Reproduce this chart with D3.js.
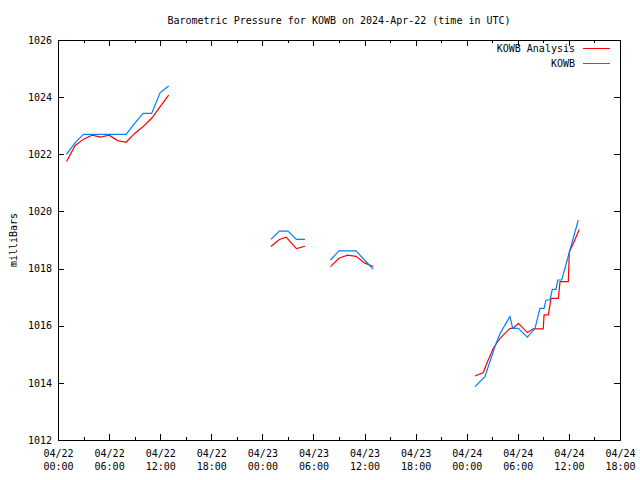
<!DOCTYPE html>
<html>
<head>
<meta charset="utf-8">
<script src="https://cdn.jsdelivr.net/npm/d3@7"></script>
<style>
  body { margin: 0; background: #fff; }
  svg text { font-family: "DejaVu Sans Mono", "Liberation Mono", monospace; font-size: 10px; fill: #000; }
</style>
</head>
<body>
<svg id="chart" width="640" height="480"></svg>
<script>
// ---- data (hours after 2024-04-22 00:00 UTC; null = gap) ----
const titleText = "Barometric Pressure for KOWB on 2024-Apr-22 (time in UTC)";
const yLabel = "milliBars";
const seriesNames = ["KOWB Analysis", "KOWB"];
const yTicks = [1012, 1014, 1016, 1018, 1020, 1022, 1024, 1026];

const anaHours = [1,2,3,4,5,6,7,8,9,10,11,12,13, null,
  25,26,26.8,28,29, null,
  32,33,34,35,36,37, null,
  48.97,49.95,50.35,51.12,51.91,53.08,53.47,54.06,55.12,55.82,56.99,57.08,57.59,57.9,58.76,58.96,59.93,60.05,60.52,61.22];
const anaPressure = [1021.75,1022.3,1022.53,1022.67,1022.6,1022.67,1022.48,1022.42,1022.73,1022.97,1023.26,1023.67,1024.07, null,
  1018.77,1019.02,1019.1,1018.7,1018.78, null,
  1018.07,1018.36,1018.47,1018.43,1018.2,1018.07, null,
  1014.24,1014.36,1014.68,1015.21,1015.56,1015.91,1015.91,1016.08,1015.76,1015.89,1015.89,1016.38,1016.38,1016.96,1016.96,1017.54,1017.54,1018.59,1018.88,1019.37];

const obsHours = [1,2,3,4,5,6,7,8,9,10,11,12,13, null,
  25,26,27,28,29, null,
  32,33,34,35,36,37, null,
  48.97,50.14,51.31,51.91,52.5,53.08,53.4,54.06,55.12,56.02,56.6,57.08,57.31,57.78,58.05,58.49,58.69,59.15,60.13,61.1];
const obsPressure = [1022.0,1022.4,1022.7,1022.7,1022.7,1022.7,1022.7,1022.7,1023.08,1023.43,1023.43,1024.16,1024.39, null,
  1019.02,1019.31,1019.31,1019.02,1019.02, null,
  1018.3,1018.62,1018.62,1018.62,1018.3,1017.98, null,
  1013.87,1014.22,1015.27,1015.73,1016.03,1016.32,1015.91,1015.91,1015.6,1015.91,1016.61,1016.61,1016.9,1016.9,1017.27,1017.27,1017.6,1017.6,1018.65,1019.7];

const seriesColors = ["#ff0000", "#0080ff"];

// ---- layout ----
const mLeft = 58, mRight = 620, mTop = 40, mBottom = 440;
const t0 = Date.UTC(2024, 3, 22, 0, 0);
const t1 = Date.UTC(2024, 3, 24, 18, 0);
const toDate = h => new Date(t0 + h * 3600e3);

const svg = d3.select("#chart");
const x = d3.scaleUtc().domain([t0, t1]).range([mLeft, mRight]);
const y = d3.scaleLinear().domain([1012, 1026]).range([mBottom, mTop]);

const fmtDate = d3.utcFormat("%m/%d");
const fmtTime = d3.utcFormat("%H:%M");
const majorTimes = d3.utcHour.every(6).range(new Date(t0), new Date(t1 + 1));
const minorTimes = d3.utcHour.every(3).range(new Date(t0), new Date(t1 + 1)).filter(d => d.getUTCHours() % 6 !== 0);

function styleAxis(g) {
  g.select(".domain").remove();
  g.selectAll(".tick line").attr("stroke", "#000").attr("shape-rendering", "crispEdges");
}

// bottom axis (major, with labels)
const gx = svg.append("g").attr("transform", `translate(0,${mBottom})`)
  .call(d3.axisBottom(x).tickValues(majorTimes).tickSizeInner(-6).tickSizeOuter(0).tickPadding(10).tickFormat(""));
styleAxis(gx);
gx.selectAll(".tick").each(function(d) {
  const t = d3.select(this).select("text");
  t.text(null).attr("fill", "#000").style("font-size", "10px").style("font-family", "DejaVu Sans Mono, monospace");
  t.append("tspan").attr("x", 0).attr("dy", "0.71em").text(fmtDate(d));
  t.append("tspan").attr("x", 0).attr("dy", "1.3em").text(fmtTime(d));
});
// bottom minor
const gxm = svg.append("g").attr("transform", `translate(0,${mBottom})`)
  .call(d3.axisBottom(x).tickValues(minorTimes).tickSizeInner(-3).tickSizeOuter(0).tickFormat(""));
styleAxis(gxm);
// top mirror
const gxt = svg.append("g").attr("transform", `translate(0,${mTop})`)
  .call(d3.axisTop(x).tickValues(majorTimes).tickSizeInner(-6).tickSizeOuter(0).tickFormat(""));
styleAxis(gxt);
const gxtm = svg.append("g").attr("transform", `translate(0,${mTop})`)
  .call(d3.axisTop(x).tickValues(minorTimes).tickSizeInner(-3).tickSizeOuter(0).tickFormat(""));
styleAxis(gxtm);

// left axis
const gy = svg.append("g").attr("transform", `translate(${mLeft},0)`)
  .call(d3.axisLeft(y).tickValues(yTicks).tickSizeInner(-6).tickSizeOuter(0).tickPadding(6).tickFormat(d3.format("d")));
styleAxis(gy);
gy.selectAll(".tick text").attr("fill", "#000").style("font-size", "10px").style("font-family", "DejaVu Sans Mono, monospace");
// right mirror
const gyr = svg.append("g").attr("transform", `translate(${mRight},0)`)
  .call(d3.axisRight(y).tickValues(yTicks).tickSizeInner(-6).tickSizeOuter(0).tickFormat(""));
styleAxis(gyr);

// border
svg.append("rect").attr("x", mLeft + 0.5).attr("y", mTop + 0.5)
  .attr("width", mRight - mLeft).attr("height", mBottom - mTop)
  .attr("fill", "none").attr("stroke", "#000").attr("stroke-width", 1);

// lines
const line = d3.line()
  .defined(d => d[0] !== null && d[1] !== null)
  .x(d => x(toDate(d[0])))
  .y(d => y(d[1]));

const plotSeries = [
  { name: seriesNames[0], hours: anaHours, vals: anaPressure, color: seriesColors[0] },
  { name: seriesNames[1], hours: obsHours, vals: obsPressure, color: seriesColors[1] }
];
plotSeries.forEach(s => {
  const pts = s.hours.map((h, i) => [h, s.vals[i]]);
  svg.append("path").datum(pts)
    .attr("d", line)
    .attr("fill", "none")
    .attr("stroke", s.color)
    .attr("stroke-width", 1.2);
});

// legend
plotSeries.forEach((s, i) => {
  const ly = 48 + i * 15;
  svg.append("text").attr("x", 575).attr("y", ly).attr("dy", "0.35em")
    .attr("text-anchor", "end").text(s.name);
  svg.append("line").attr("x1", 583).attr("x2", 610).attr("y1", ly + 0.5).attr("y2", ly + 0.5)
    .attr("stroke", s.color).attr("stroke-width", 1)
    .attr("shape-rendering", "crispEdges");
});

// title
svg.append("text").attr("x", 339).attr("y", 20).attr("dy", "0.35em")
  .attr("text-anchor", "middle").text(titleText);

// y label
svg.append("text").attr("transform", "translate(13,240) rotate(-90)")
  .attr("text-anchor", "middle").attr("dy", "0.35em").text(yLabel);
</script>
</body>
</html>
